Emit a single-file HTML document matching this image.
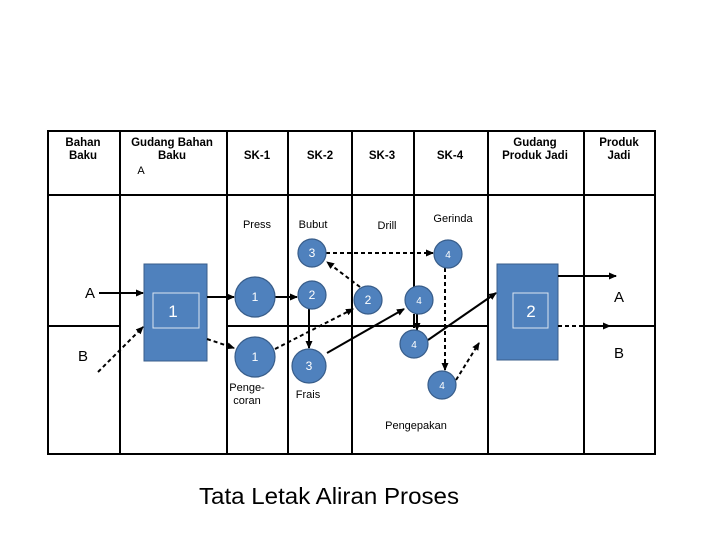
<!DOCTYPE html>
<html><head><meta charset="utf-8"><style>
html,body{margin:0;padding:0;background:#fff;}
svg{display:block;font-family:"Liberation Sans",Arial,sans-serif;}
</style></head><body>
<svg width="720" height="540" viewBox="0 0 720 540" xmlns="http://www.w3.org/2000/svg">
<defs>
<marker id="ah" markerWidth="8" markerHeight="8" refX="7" refY="4" orient="auto" markerUnits="userSpaceOnUse"><path d="M0,0.5 L8,4 L0,7.5 Z" fill="#000"/></marker>
</defs>
<g stroke="#000" stroke-width="2" fill="none">
<rect x="48" y="131" width="607" height="323"/>
<line x1="48" y1="195" x2="655" y2="195"/>
<line x1="48" y1="326" x2="120" y2="326"/>
<line x1="227" y1="326" x2="488" y2="326"/>
<line x1="584" y1="326" x2="655" y2="326"/>
<line x1="120" y1="131" x2="120" y2="454"/>
<line x1="227" y1="131" x2="227" y2="454"/>
<line x1="288" y1="131" x2="288" y2="454"/>
<line x1="352" y1="131" x2="352" y2="454"/>
<line x1="414" y1="131" x2="414" y2="288"/>
<line x1="488" y1="131" x2="488" y2="454"/>
<line x1="584" y1="131" x2="584" y2="454"/>
</g>
<g font-size="11.5" font-weight="bold" text-anchor="middle" fill="#000">
<text x="83" y="146">Bahan</text><text x="83" y="159">Baku</text>
<text x="172" y="146">Gudang Bahan</text><text x="172" y="159">Baku</text>
<text x="257" y="159">SK-1</text>
<text x="320" y="159">SK-2</text>
<text x="382" y="159">SK-3</text>
<text x="450" y="159">SK-4</text>
<text x="535" y="146">Gudang</text><text x="535" y="159">Produk Jadi</text>
<text x="619" y="146">Produk</text><text x="619" y="159">Jadi</text>
</g>
<g font-size="11" fill="#000" text-anchor="middle">
<text x="141" y="174">A</text>
<text x="257" y="228">Press</text>
<text x="313" y="228">Bubut</text>
<text x="387" y="229">Drill</text>
<text x="453" y="222">Gerinda</text>
<text x="247" y="391">Penge-</text><text x="247" y="404">coran</text>
<text x="308" y="398">Frais</text>
<text x="416" y="429">Pengepakan</text>
</g>
<g font-size="15" fill="#000" text-anchor="middle">
<text x="90" y="298">A</text>
<text x="83" y="361">B</text>
<text x="619" y="302">A</text>
<text x="619" y="358">B</text>
</g>
<g fill="#4f81bd" stroke="#385d8a" stroke-width="1">
<rect x="144" y="264" width="63" height="97"/>
<rect x="497" y="264" width="61" height="96"/>
</g>
<g fill="none" stroke="#dbe5f1" stroke-width="1">
<rect x="153" y="293" width="46" height="35"/>
<rect x="513" y="293" width="35" height="35"/>
</g>
<g fill="#fff" font-size="17" text-anchor="middle">
<text x="173" y="317">1</text>
<text x="531" y="317">2</text>
</g>
<g stroke="#000" stroke-width="2" fill="none" marker-end="url(#ah)">
<line x1="99" y1="293" x2="143" y2="293"/>
<line x1="98" y1="372" x2="143" y2="327" stroke-dasharray="4,3"/>
<line x1="207" y1="297" x2="234" y2="297"/>
<line x1="207" y1="339" x2="234" y2="348" stroke-dasharray="4,3"/>
<line x1="275" y1="297" x2="297" y2="297"/>
<line x1="309" y1="309" x2="309" y2="348"/>
<line x1="275" y1="349" x2="353" y2="309" stroke-dasharray="4,3"/>
<line x1="360" y1="287" x2="327" y2="262" stroke-dasharray="4,3"/>
<line x1="326" y1="253" x2="433" y2="253" stroke-dasharray="4,3"/>
<line x1="327" y1="353" x2="404" y2="309"/>
<line x1="417" y1="314" x2="417" y2="330"/>
<line x1="428" y1="340" x2="496" y2="293"/>
<line x1="445" y1="268" x2="445" y2="370" stroke-dasharray="4,3"/>
<line x1="456" y1="380" x2="479" y2="343" stroke-dasharray="4,3"/>
<line x1="558" y1="276" x2="616" y2="276"/>
<line x1="558" y1="326" x2="610" y2="326" stroke-dasharray="4,3"/>
</g>
<line x1="414" y1="314" x2="414" y2="328" stroke="#000" stroke-width="2"/>
<g fill="#4f81bd" stroke="#385d8a" stroke-width="1.2">
<circle cx="255" cy="297" r="20"/>
<circle cx="255" cy="357" r="20"/>
<circle cx="312" cy="295" r="14"/>
<circle cx="312" cy="253" r="14"/>
<circle cx="309" cy="366" r="17"/>
<circle cx="368" cy="300" r="14"/>
<circle cx="448" cy="254" r="14"/>
<circle cx="419" cy="300" r="14"/>
<circle cx="414" cy="344" r="14"/>
<circle cx="442" cy="385" r="14"/>
</g>
<g fill="#fff" font-size="12" text-anchor="middle">
<text x="255" y="301">1</text>
<text x="255" y="361">1</text>
<text x="312" y="299">2</text>
<text x="312" y="257">3</text>
<text x="309" y="370">3</text>
<text x="368" y="304">2</text>
<text x="448" y="258" font-size="10">4</text>
<text x="419" y="304" font-size="10">4</text>
<text x="414" y="348" font-size="10">4</text>
<text x="442" y="389" font-size="10">4</text>
</g>
<text x="329" y="504" font-size="23" text-anchor="middle" textLength="260" lengthAdjust="spacingAndGlyphs" fill="#000">Tata Letak Aliran Proses</text>
</svg>
</body></html>
